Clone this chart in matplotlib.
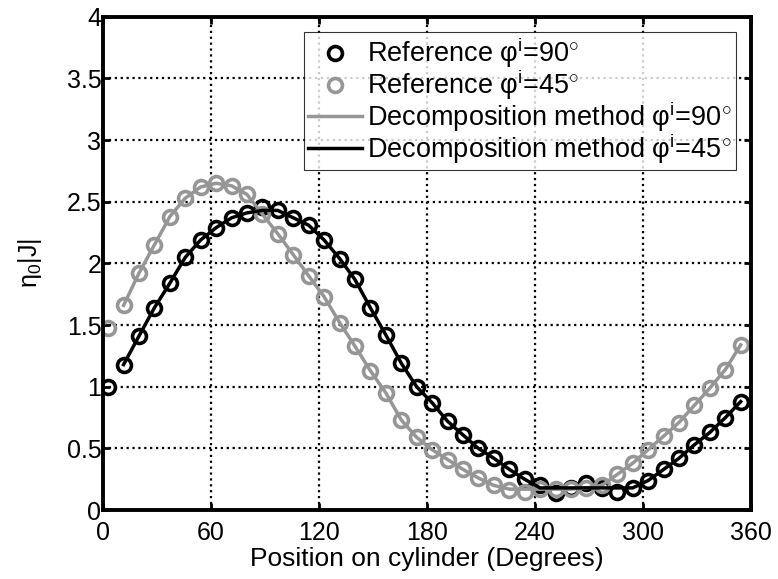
import matplotlib
matplotlib.use("Agg")
import matplotlib.pyplot as plt

plt.rcParams['font.family'] = ['Liberation Sans', 'DejaVu Sans']
plt.rcParams['mathtext.fontset'] = 'custom'
plt.rcParams['mathtext.rm'] = 'Liberation Sans'
plt.rcParams['mathtext.it'] = 'Liberation Sans'

# sample positions on the cylinder (degrees)
positions = [3.0, 11.6, 20.1, 28.7, 37.3, 45.9, 54.4, 63.0, 71.6, 80.1,
             88.7, 97.3, 105.9, 114.4, 123.0, 131.6, 140.1, 148.7, 157.3, 165.9,
             174.4, 183.0, 191.6, 200.1, 208.7, 217.3, 225.9, 234.4, 243.0, 251.6,
             260.1, 268.7, 277.3, 285.9, 294.4, 303.0, 311.6, 320.1, 328.7, 337.3,
             345.9, 354.4]

# reference solution, phi_i = 90
ref_90 = [1.00, 1.18, 1.41, 1.64, 1.84, 2.05, 2.19, 2.29, 2.37, 2.41,
          2.46, 2.43, 2.37, 2.31, 2.19, 2.04, 1.87, 1.64, 1.42, 1.19,
          1.00, 0.87, 0.72, 0.61, 0.50, 0.42, 0.33, 0.25, 0.20, 0.14,
          0.18, 0.22, 0.18, 0.15, 0.18, 0.24, 0.33, 0.42, 0.53, 0.63,
          0.75, 0.88]

# reference solution, phi_i = 45
ref_45 = [1.48, 1.66, 1.92, 2.15, 2.38, 2.53, 2.62, 2.65, 2.63, 2.56,
          2.40, 2.24, 2.07, 1.90, 1.73, 1.52, 1.33, 1.13, 0.95, 0.73,
          0.59, 0.49, 0.41, 0.33, 0.26, 0.20, 0.16, 0.15, 0.17, 0.17,
          0.17, 0.18, 0.20, 0.29, 0.38, 0.49, 0.60, 0.71, 0.85, 0.99,
          1.14, 1.34]

# decomposition method curves (start from the second sample)
line_pos = positions[1:]
dec_45 = [1.66, 1.92, 2.15, 2.38, 2.53, 2.62, 2.65, 2.63, 2.56,
          2.40, 2.24, 2.07, 1.90, 1.73, 1.52, 1.33, 1.13, 0.95, 0.73,
          0.59, 0.49, 0.41, 0.33, 0.26, 0.20, 0.17, 0.17, 0.17, 0.17,
          0.17, 0.18, 0.20, 0.29, 0.38, 0.49, 0.60, 0.71, 0.85, 0.99,
          1.14, 1.34]
dec_90 = [1.18, 1.41, 1.64, 1.84, 2.05, 2.19, 2.29, 2.37, 2.41,
          2.43, 2.43, 2.37, 2.31, 2.19, 2.04, 1.87, 1.64, 1.42, 1.19,
          1.00, 0.87, 0.72, 0.61, 0.50, 0.42, 0.33, 0.25, 0.18, 0.18,
          0.18, 0.18, 0.18, 0.18, 0.18, 0.24, 0.33, 0.42, 0.53, 0.63,
          0.75, 0.88]

x_ticks = [0, 60, 120, 180, 240, 300, 360]
y_ticks = [0, 0.5, 1, 1.5, 2, 2.5, 3, 3.5, 4]
y_tick_labels = ['0', '0.5', '1', '1.5', '2', '2.5', '3', '3.5', '4']

GRAY = '#969696'

fig = plt.figure(figsize=(7.78, 5.79), dpi=100)
ax = fig.add_axes([0.132, 0.119, 0.833, 0.852])

ax.plot(positions, ref_90, 'o', mfc='none', mec='black', ms=10, mew=2.6,
        label='Reference φ$^{i}$=90$^{\\circ}$')
ax.plot(positions, ref_45, 'o', mfc='none', mec=GRAY, ms=10, mew=2.6,
        label='Reference φ$^{i}$=45$^{\\circ}$')
ax.plot(line_pos, dec_45, '-', color=GRAY, lw=2.5,
        label='Decomposition method φ$^{i}$=90$^{\\circ}$')
ax.plot(line_pos, dec_90, '-', color='black', lw=2.5,
        label='Decomposition method φ$^{i}$=45$^{\\circ}$')

ax.set_xlim(0, 360)
ax.set_ylim(0, 4)
ax.set_xticks(x_ticks)
ax.set_yticks(y_ticks)
ax.set_yticklabels(y_tick_labels)
ax.tick_params(direction='in', length=5, width=2, labelsize=18,
               top=True, right=True)
ax.tick_params(axis='x', pad=8)
ax.tick_params(axis='y', pad=1)
ax.grid(True, linestyle=':', color='black', lw=1.6)
for s in ax.spines.values():
    s.set_linewidth(2.8)

ax.set_xlabel('Position on cylinder (Degrees)', fontsize=19, labelpad=1)
ax.set_ylabel('η$_0$|J|', fontsize=18, labelpad=16)

leg = ax.legend(loc='upper right', fontsize=19.5, frameon=True, fancybox=False,
                handlelength=2.0, handletextpad=0.2, labelspacing=-0.1,
                borderpad=0.15, borderaxespad=0.55)
leg.get_frame().set_edgecolor('black')
leg.get_frame().set_linewidth(0.8)

fig.savefig('out.png', dpi=100)
